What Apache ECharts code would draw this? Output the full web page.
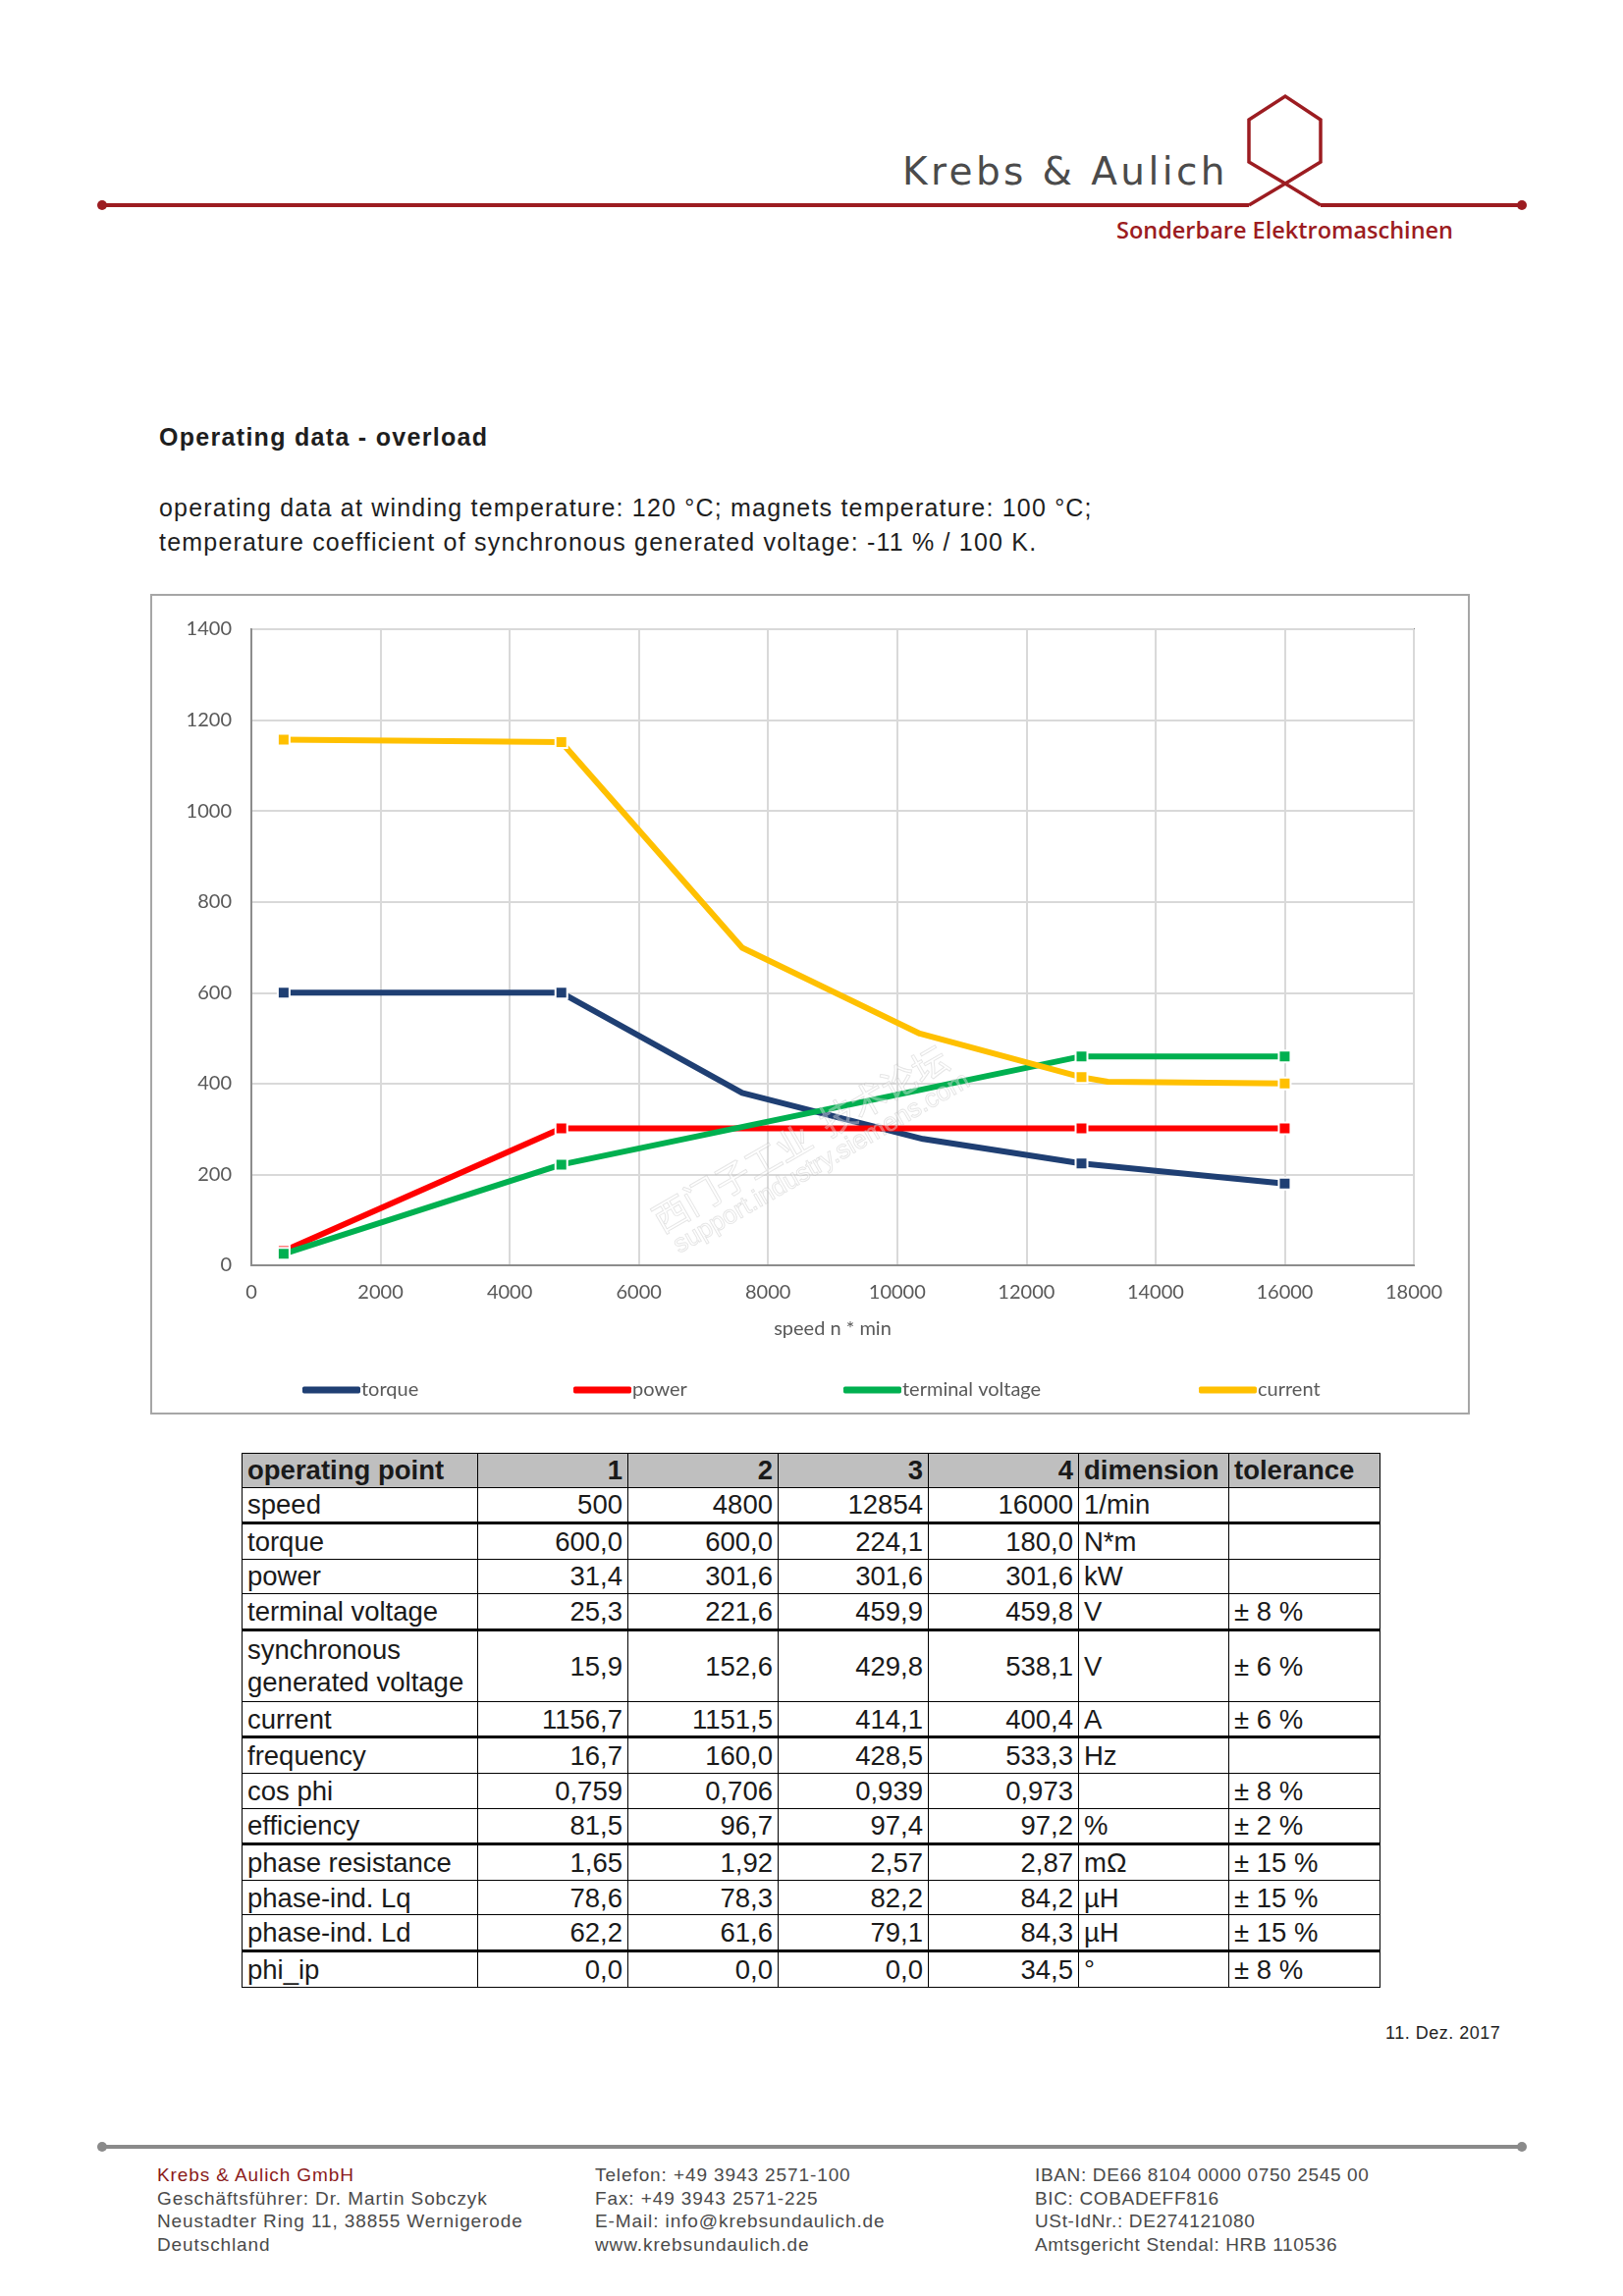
<!DOCTYPE html>
<html>
<head>
<meta charset="utf-8">
<script src="https://cdn.jsdelivr.net/npm/echarts@6/dist/echarts.min.js"></script>
<style>
html,body{margin:0;padding:0;background:#fff;}
#page{position:relative;width:1653px;height:2339px;overflow:hidden;background:#fff;font-family:"Liberation Sans",Arial,sans-serif;color:#1e1e1e;}
.abs{position:absolute;white-space:nowrap;}
#tbl{position:absolute;left:246px;top:1480px;border-collapse:collapse;table-layout:fixed;width:1159px;font-family:"Liberation Sans",Arial,sans-serif;font-size:27.5px;color:#1a1a1a;}
#tbl td{border:1.5px solid #000;padding:0 5px;height:34.6px;line-height:33px;overflow:hidden;white-space:nowrap;}
#tbl td.n{text-align:right;}
#tbl tr.h td{background:#bfbfbf;font-weight:bold;height:33.5px;}
#tbl tr.thick td{border-bottom:3px solid #000;}
#tbl tr.dbl td{height:71px;}
.foot{position:absolute;top:2204px;font-size:19px;line-height:23.5px;letter-spacing:0.9px;color:#4a4a4a;white-space:nowrap;}
</style>
</head>
<body>
<div id="page">
  <svg class="abs" style="left:0;top:0" width="1653" height="300">
    <line x1="104" y1="209" x2="1272" y2="209" stroke="#9c1c21" stroke-width="4"/>
    <circle cx="104" cy="209" r="5" fill="#9c1c21"/>
    <polyline points="1272,209 1309,187 1345,165 1345,122 1309,98 1272,122 1272,165 1309,187 1345,209" fill="none" stroke="#9c1c21" stroke-width="3.5" stroke-linejoin="miter"/>
    <line x1="1345" y1="209" x2="1550" y2="209" stroke="#9c1c21" stroke-width="4"/>
    <circle cx="1550" cy="209" r="5" fill="#9c1c21"/>
  </svg>
  <div class="abs" style="left:919px;top:155px;font-family:'DejaVu Sans';font-size:39px;line-height:39px;color:#4b4b4b;letter-spacing:3.4px;">Krebs &amp; Aulich</div>
  <div class="abs" style="left:1137px;top:223px;font-family:'Open Sans';font-weight:600;font-size:23.5px;line-height:23.5px;color:#9c1c21;letter-spacing:0px;">Sonderbare Elektromaschinen</div>

  <div class="abs" style="left:162px;top:433px;font-size:25px;line-height:25px;font-weight:bold;letter-spacing:1.3px;color:#1e1e1e;">Operating data - overload</div>
  <div class="abs" style="left:162px;top:500px;font-size:25px;line-height:35px;letter-spacing:1.2px;color:#1e1e1e;">operating data at winding temperature: 120 °C; magnets temperature: 100 °C;<br>temperature coefficient of synchronous generated voltage: -11 % / 100 K.</div>

  <div id="chart" class="abs" style="left:153px;top:605px;width:1344px;height:836px;"></div>
  <div class="abs" style="left:153px;top:605px;width:1344px;height:836px;border:2px solid #a6a6a6;box-sizing:border-box;pointer-events:none;"></div>

  <table id="tbl"></table>

  <div class="abs" style="left:1411px;top:2062px;font-size:18px;line-height:18px;letter-spacing:0.5px;color:#1e1e1e;">11. Dez. 2017</div>

  <svg class="abs" style="left:0;top:2170px" width="1653" height="40">
    <line x1="104" y1="17" x2="1550" y2="17" stroke="#8a8a8a" stroke-width="4"/>
    <circle cx="104" cy="17" r="5" fill="#8a8a8a"/>
    <circle cx="1550" cy="17" r="5" fill="#8a8a8a"/>
  </svg>
  <div class="foot" style="left:160px;"><span style="color:#8b1a1a">Krebs &amp; Aulich GmbH</span><br>Geschäftsführer: Dr. Martin Sobczyk<br>Neustadter Ring 11, 38855 Wernigerode<br>Deutschland</div>
  <div class="foot" style="left:606px;">Telefon: +49 3943 2571-100<br>Fax: +49 3943 2571-225<br>E-Mail: info@krebsundaulich.de<br>www.krebsundaulich.de</div>
  <div class="foot" style="left:1054px;letter-spacing:0.65px;">IBAN: DE66 8104 0000 0750 2545 00<br>BIC: COBADEFF816<br>USt-IdNr.: DE274121080<br>Amtsgericht Stendal: HRB 110536</div>
</div>
<script>
// ---- table data ----
const tableHeader = ['operating point', '1', '2', '3', '4', 'dimension', 'tolerance'];
const tableRows = [
  ['speed', '500', '4800', '12854', '16000', '1/min', ''],
  ['torque', '600,0', '600,0', '224,1', '180,0', 'N*m', ''],
  ['power', '31,4', '301,6', '301,6', '301,6', 'kW', ''],
  ['terminal voltage', '25,3', '221,6', '459,9', '459,8', 'V', '± 8 %'],
  ['synchronous<br>generated voltage', '15,9', '152,6', '429,8', '538,1', 'V', '± 6 %'],
  ['current', '1156,7', '1151,5', '414,1', '400,4', 'A', '± 6 %'],
  ['frequency', '16,7', '160,0', '428,5', '533,3', 'Hz', ''],
  ['cos phi', '0,759', '0,706', '0,939', '0,973', '', '± 8 %'],
  ['efficiency', '81,5', '96,7', '97,4', '97,2', '%', '± 2 %'],
  ['phase resistance', '1,65', '1,92', '2,57', '2,87', 'mΩ', '± 15 %'],
  ['phase-ind. Lq', '78,6', '78,3', '82,2', '84,2', 'µH', '± 15 %'],
  ['phase-ind. Ld', '62,2', '61,6', '79,1', '84,3', 'µH', '± 15 %'],
  ['phi_ip', '0,0', '0,0', '0,0', '34,5', '°', '± 8 %']
];
const thickAfter = [0, 3, 5, 8, 11];
const colWidths = [240, 153, 153, 153, 153, 153, 154];

// ---- chart data ----
const markerSpeeds = [500, 4800, 12854, 16000];
const seriesNames = ['torque', 'power', 'terminal voltage', 'current'];
const seriesColors = ['#1f3f73', '#ff0000', '#00b050', '#ffc000'];
const torqueCurve = [[500, 600.0], [4800, 600.0], [7600, 379.5], [10400, 278], [12854, 224.1], [16000, 180.0]];
const powerCurve = [[500, 31.4], [4800, 301.6], [12854, 301.6], [16000, 301.6]];
const voltageCurve = [[500, 25.3], [4800, 221.6], [12854, 459.9], [16000, 459.8]];
const currentCurve = [[500, 1156.7], [4800, 1151.5], [7600, 699], [10350, 510], [12854, 414.1], [13260, 404], [16000, 400.4]];
const xTickMax = 18000, xTickStep = 2000;
const yTickMax = 1400, yTickStep = 200;
const legendLeft = [155, 431, 706, 1068];

// build table
(function () {
  const t = document.getElementById('tbl');
  let html = '<colgroup>' + colWidths.map(w => '<col style="width:' + w + 'px">').join('') + '</colgroup>';
  html += '<tr class="h">' + tableHeader.map((c, i) => '<td class="' + (i >= 1 && i <= 4 ? 'n' : '') + '">' + c + '</td>').join('') + '</tr>';
  tableRows.forEach((r, ri) => {
    const cls = [];
    if (thickAfter.includes(ri)) cls.push('thick');
    if (r[0].indexOf('<br>') >= 0) cls.push('dbl');
    html += '<tr class="' + cls.join(' ') + '">' + r.map((c, i) => '<td class="' + (i >= 1 && i <= 4 ? 'n' : '') + '">' + c + '</td>').join('') + '</tr>';
  });
  t.innerHTML = html;
})();

const chart = echarts.init(document.getElementById('chart'), null, { renderer: 'canvas' });
const curves = [torqueCurve, powerCurve, voltageCurve, currentCurve];
const mk = c => c.map(p => ({ value: p, symbol: markerSpeeds.includes(p[0]) ? 'rect' : 'none' }));
const labelFont = { fontFamily: 'Lato', fontSize: 20, color: '#595959' };

chart.setOption({
  animation: false,
  backgroundColor: '#fff',
  grid: { left: 103, top: 36, width: 1184, height: 648, show: true, borderColor: '#8c8c8c', borderWidth: 2, backgroundColor: 'transparent' },
  xAxis: {
    type: 'value', min: 0, max: xTickMax, interval: xTickStep,
    name: 'speed n * min', nameLocation: 'middle', nameGap: 55,
    nameTextStyle: labelFont,
    axisLine: { show: true, lineStyle: { color: '#8c8c8c', width: 2 } },
    axisTick: { show: false },
    axisLabel: Object.assign({ margin: 18, formatter: v => String(v) }, labelFont),
    splitLine: { show: true, lineStyle: { color: '#d9d9d9', width: 2 } }
  },
  yAxis: {
    type: 'value', min: 0, max: yTickMax, interval: yTickStep,
    axisLine: { show: true, lineStyle: { color: '#8c8c8c', width: 2 } },
    axisTick: { show: false },
    axisLabel: Object.assign({ margin: 20, formatter: v => String(v) }, labelFont),
    splitLine: { show: true, lineStyle: { color: '#d9d9d9', width: 2 } }
  },
  legend: seriesNames.map((n, i) => ({
    data: [n], left: legendLeft[i], top: 801, padding: 0,
    itemWidth: 59, itemHeight: 7, icon: 'roundRect', selectedMode: false,
    itemStyle: { borderWidth: 0 },
    textStyle: Object.assign({ padding: [0, 0, 0, -4] }, labelFont)
  })),
  series: curves.map((c, i) => ({
    name: seriesNames[i], type: 'line', data: mk(c),
    symbol: 'rect', symbolSize: 12, showAllSymbol: true,
    lineStyle: { width: 6, color: seriesColors[i], cap: 'round', join: 'round' },
    itemStyle: { color: seriesColors[i], borderColor: '#fff', borderWidth: 2 },
    emphasis: { disabled: true }, z: 2 + i
  })),
  graphic: [
    { type: 'text', x: 662, y: 555, rotation: Math.PI / 6, silent: true, z: 100,
      style: { text: '西门子工业  技术论坛', fontFamily: 'Noto Sans CJK SC', fontSize: 36, fill: 'rgba(255,255,255,0.35)', stroke: 'rgba(170,170,170,0.35)', lineWidth: 1, align: 'center', verticalAlign: 'middle' } },
    { type: 'text', x: 684, y: 580, rotation: Math.PI / 6, silent: true, z: 100,
      style: { text: 'support.industry.siemens.com', fontFamily: 'Liberation Sans', fontSize: 26, fill: 'rgba(255,255,255,0.35)', stroke: 'rgba(170,170,170,0.35)', lineWidth: 1, align: 'center', verticalAlign: 'middle' } }
  ]
});
</script>
</body>
</html>
